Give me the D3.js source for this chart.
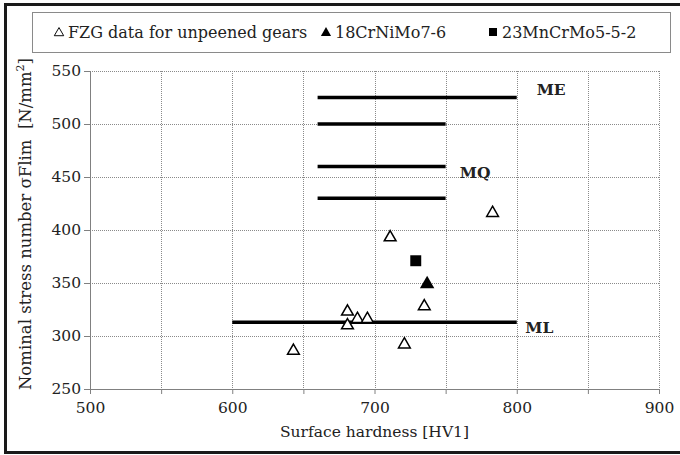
<!DOCTYPE html>
<meta charset="utf-8">
<script src="https://d3js.org/d3.v7.min.js"></script>
<style>
  body { margin: 0; background: #fff; }
  text { font-family: "DejaVu Serif", serif; fill: #222; }
</style>
<div id="chart"></div>
<script>

// data
var fzgX = [643, 681, 681, 688, 695, 711, 721, 735, 783];
var fzgY = [286, 323, 310, 316, 316, 393, 292, 328, 416];
var crniX = [737];
var crniY = [349];
var mncrX = [729];
var mncrY = [371];

// quality grade bands: [x start, x end, y]
var bandX1 = [660, 660, 660, 660, 600];
var bandX2 = [800, 750, 750, 750, 800];
var bandY  = [525, 500, 460, 430, 313];
var gradeNames = ["ME", "MQ", "ML"];
var gradeX = [814, 760, 806];
var gradeY = [527, 449, 303];

var xTicks = [500, 600, 700, 800, 900];
var yTicks = [250, 300, 350, 400, 450, 500, 550];

var W = 680, H = 455;
var margin = {top: 71, right: 21, bottom: 66, left: 90},
    width = W - margin.left - margin.right,
    height = H - margin.top - margin.bottom;

var svg = d3.select("#chart")
  .append("svg")
    .attr("width", W)
    .attr("height", H);

// outer frame
svg.append("rect")
  .attr("x", 5.5).attr("y", 4.5)
  .attr("width", W + 10).attr("height", H - 7)
  .attr("fill", "none")
  .attr("stroke", "#1a1a1a")
  .attr("stroke-width", 3);

var g = svg.append("g")
  .attr("transform", "translate(" + margin.left + "," + margin.top + ")");

var x = d3.scaleLinear().domain([500, 900]).range([0, width]);
var y = d3.scaleLinear().domain([250, 550]).range([height, 0]);

// grid lines
g.append("g")
  .selectAll("line")
  .data(d3.range(550, 901, 50))
  .enter()
  .append("line")
    .attr("x1", function(d) { return Math.round(x(d)) + 0.5 })
    .attr("x2", function(d) { return Math.round(x(d)) + 0.5 })
    .attr("y1", 0).attr("y2", height)
    .attr("stroke", "#8a8a8a")
    .attr("stroke-dasharray", "1,1");

g.append("g")
  .selectAll("line")
  .data(d3.range(300, 551, 50))
  .enter()
  .append("line")
    .attr("y1", function(d) { return Math.round(y(d)) + 0.5 })
    .attr("y2", function(d) { return Math.round(y(d)) + 0.5 })
    .attr("x1", 0).attr("x2", width)
    .attr("stroke", "#8a8a8a")
    .attr("stroke-dasharray", "1,1");

// axes
var xAxis = g.append("g")
  .attr("transform", "translate(0," + height + ")")
  .call(d3.axisBottom(x).tickValues(d3.range(500, 901, 50)).tickSize(5).tickPadding(8)
    .tickFormat(function(d) { return xTicks.indexOf(d) >= 0 ? d : "" }));
var yAxis = g.append("g")
  .call(d3.axisLeft(y).tickValues(yTicks).tickSize(6).tickPadding(3));

[xAxis, yAxis].forEach(function(a) {
  a.select(".domain").attr("stroke", "#808080");
  a.selectAll(".tick line").attr("stroke", "#808080");
  a.selectAll(".tick text")
    .style("font-family", "'DejaVu Serif', serif")
    .style("font-size", "15.5px")
    .attr("fill", "#333");
});

// grade bands
g.append("g")
  .selectAll("line")
  .data(bandY)
  .enter()
  .append("line")
    .attr("x1", function(d, i) { return x(bandX1[i]) })
    .attr("x2", function(d, i) { return x(bandX2[i]) })
    .attr("y1", function(d) { return y(d) })
    .attr("y2", function(d) { return y(d) })
    .attr("stroke", "#000")
    .attr("stroke-width", 3.5);

g.append("g")
  .selectAll("text")
  .data(gradeNames)
  .enter()
  .append("text")
    .attr("x", function(d, i) { return x(gradeX[i]) })
    .attr("y", function(d, i) { return y(gradeY[i]) })
    .style("font-size", "15.5px")
    .style("font-weight", "bold")
    .attr("fill", "#111")
    .text(function(d) { return d });

// markers
var tri = d3.symbol().type(d3.symbolTriangle).size(60);
var sq = d3.symbol().type(d3.symbolSquare).size(120);

g.append("g")
  .selectAll("path")
  .data(fzgX)
  .enter()
  .append("path")
    .attr("d", tri)
    .attr("transform", function(d, i) { return "translate(" + x(d) + "," + y(fzgY[i]) + ")" })
    .attr("fill", "#fff")
    .attr("stroke", "#000")
    .attr("stroke-width", 1.5);

g.append("g")
  .selectAll("path")
  .data(crniX)
  .enter()
  .append("path")
    .attr("d", d3.symbol().type(d3.symbolTriangle).size(90))
    .attr("transform", function(d, i) { return "translate(" + x(d) + "," + y(crniY[i]) + ")" })
    .attr("fill", "#000");

g.append("g")
  .selectAll("path")
  .data(mncrX)
  .enter()
  .append("path")
    .attr("d", sq)
    .attr("transform", function(d, i) { return "translate(" + x(d) + "," + y(mncrY[i]) + ")" })
    .attr("fill", "#000");

// axis titles
svg.append("text")
  .attr("x", margin.left + width / 2)
  .attr("y", 437)
  .attr("text-anchor", "middle")
  .style("font-size", "15.5px")
  .text("Surface hardness [HV1]");

var yl = svg.append("text")
  .attr("transform", "translate(31,224) rotate(-90)")
  .attr("text-anchor", "middle")
  .attr("xml:space", "preserve")
  .style("white-space", "pre")
  .style("font-size", "16.5px");
yl.append("tspan").text("Nominal stress number σFlim  [N/mm");
yl.append("tspan").attr("dy", -7).style("font-size", "11px").text("2");
yl.append("tspan").attr("dy", 7).text("]");

// legend
var leg = svg.append("g");
leg.append("rect")
  .attr("x", 32.5).attr("y", 12.5)
  .attr("width", 638).attr("height", 40)
  .attr("fill", "#fff")
  .attr("stroke", "#8a8a8a");

var legNames = ["FZG data for unpeened gears", "18CrNiMo7-6", "23MnCrMo5-5-2"];
var legX = [59, 326, 493];
var legSym = [tri, d3.symbol().type(d3.symbolTriangle).size(45), d3.symbol().type(d3.symbolSquare).size(64)];
var legFill = ["#fff", "#000", "#000"];

legNames.forEach(function(name, i) {
  leg.append("path")
    .attr("d", legSym[i])
    .attr("fill", legFill[i])
    .attr("stroke", i == 0 ? "#000" : "none")
    .attr("stroke-width", 1.2)
    .attr("transform", "translate(" + legX[i] + "," + (i == 2 ? 32 : 33) + ")" + (i == 0 ? " scale(0.8)" : ""));
  leg.append("text")
    .attr("x", legX[i] + 9)
    .attr("y", 38)
    .style("font-size", "16px")
    .text(name);
});

</script>
